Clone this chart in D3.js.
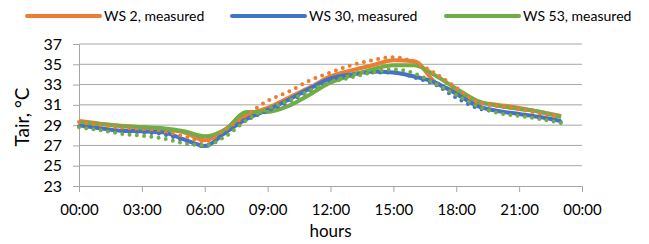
<!DOCTYPE html>
<html>
<head>
<meta charset="utf-8">
<script src="https://cdn.jsdelivr.net/npm/d3@7"></script>
<style>
  body { margin: 0; background: #fff; }
  text { font-family: Lato, "Open Sans", sans-serif; fill: #000; }
</style>
</head>
<body>
<div id="chart"></div>
<script>
// hours of the day, one reading per hour
var hours = d3.range(0, 24);

// measured (solid lines)
var ws2Measured  = [29.4, 29.15, 28.95, 28.8, 28.6, 28.3, 27.5, 28.6, 30.0, 30.7, 31.7, 32.7,
                    33.8, 34.4, 34.9, 35.4, 35.3, 33.2, 32.3, 31.3, 31.0, 30.7, 30.3, 29.9];
var ws30Measured = [29.0, 28.7, 28.45, 28.4, 28.3, 27.6, 26.95, 28.3, 29.6, 30.5, 31.5, 32.6,
                    33.6, 34.0, 34.3, 34.2, 33.8, 33.2, 32.1, 30.9, 30.4, 30.1, 29.8, 29.4];
var ws53Measured = [29.3, 29.1, 28.9, 28.8, 28.7, 28.4, 27.9, 28.6, 30.3, 30.3, 30.9, 32.0,
                    33.2, 33.9, 34.5, 34.9, 34.9, 33.9, 32.6, 31.4, 30.9, 30.6, 30.3, 29.8];

// simulated (dotted lines, not in the legend)
var ws2Sim  = [29.3, 29.0, 28.7, 28.5, 28.3, 27.9, 27.4, 28.6, 30.0, 31.4, 32.3, 33.4,
               34.2, 34.9, 35.4, 35.7, 35.2, 34.1, 32.7, 31.3, 30.85, 30.55, 30.15, 29.8];
var ws30Sim = [28.9, 28.6, 28.4, 28.3, 28.1, 27.5, 26.9, 28.2, 29.5, 30.4, 31.3, 32.4,
               33.4, 33.9, 34.2, 34.2, 33.7, 33.0, 31.7, 30.7, 30.3, 30.0, 29.7, 29.3];
var ws53Sim = [28.8, 28.5, 28.15, 27.95, 27.7, 27.2, 27.0, 27.9, 29.5, 30.6, 31.4, 32.4,
               33.2, 33.7, 34.2, 34.5, 34.1, 33.1, 32.0, 30.9, 30.2, 29.9, 29.6, 29.2];

var xTicks = d3.range(0, 25, 3);
var yTicks = d3.range(23, 38, 2);
var legendNames = ["WS 2, measured", "WS 30, measured", "WS 53, measured"];

var colors = ["#ED7D31", "#4472C4", "#70AD47"];

var width = 649, height = 244;
var margin = {top: 44, right: 67, bottom: 58, left: 79};

var x = d3.scaleLinear().domain([0, 24]).range([margin.left, width - margin.right]);
var y = d3.scaleLinear().domain([23, 37]).range([height - margin.bottom, margin.top]);

var svg = d3.select("#chart").append("svg")
    .attr("width", width)
    .attr("height", height);

// gridlines
svg.append("g")
  .selectAll("line")
  .data(yTicks.slice(1))
  .enter().append("line")
    .attr("x1", x(0)).attr("x2", x(24))
    .attr("y1", function(d) { return y(d); })
    .attr("y2", function(d) { return y(d); })
    .attr("stroke", "#A6A6A6")
    .attr("stroke-width", 1);

// x axis
var xAxis = svg.append("g")
    .attr("transform", "translate(0," + y(23) + ")")
    .call(d3.axisBottom(x).tickValues(xTicks).tickSizeInner(6).tickSizeOuter(0)
      .tickFormat(function(d) { return d3.format("02")(d % 24) + ":00"; }));
xAxis.select(".domain").attr("stroke", "#A6A6A6");
xAxis.selectAll(".tick line").attr("stroke", "#A6A6A6");
xAxis.selectAll("text").attr("font-size", 15).attr("dy", "1.3em");

// y axis
var yAxis = svg.append("g")
    .attr("transform", "translate(" + x(0) + ",0)")
    .call(d3.axisLeft(y).tickValues(yTicks).tickSizeInner(6).tickSizeOuter(0));
yAxis.select(".domain").attr("stroke", "#A6A6A6");
yAxis.selectAll(".tick line").attr("stroke", "#A6A6A6");
yAxis.selectAll("text").attr("font-size", 16).attr("x", -17);

// axis titles
svg.append("text")
    .attr("x", (x(0) + x(24)) / 2)
    .attr("y", 237)
    .attr("text-anchor", "middle")
    .attr("font-size", 17)
    .text("hours");

svg.append("text")
    .attr("transform", "translate(29," + ((y(23) + y(37)) / 2 + 2) + ") rotate(-90)")
    .attr("text-anchor", "middle")
    .attr("font-size", 19)
    .text("Tair, °C");

var line = d3.line()
    .x(function(d, i) { return x(hours[i]); })
    .y(function(d) { return y(d); })
    .curve(d3.curveMonotoneX);

// solid measured lines
[ws2Measured, ws30Measured, ws53Measured].forEach(function(s, i) {
  svg.append("path")
      .attr("d", line(s))
      .attr("fill", "none")
      .attr("stroke", colors[i])
      .attr("stroke-width", 4)
      .attr("stroke-linejoin", "round");
});

// dotted simulated lines
[ws2Sim, ws30Sim, ws53Sim].forEach(function(s, i) {
  svg.append("path")
      .attr("d", line(s))
      .attr("fill", "none")
      .attr("stroke", colors[i])
      .attr("stroke-width", 4)
      .attr("stroke-linecap", "round")
      .attr("stroke-dasharray", "0,7.3");
});

// legend
var legendX = [27, 232, 446];
var legend = svg.append("g");
legendNames.forEach(function(name, i) {
  legend.append("line")
      .attr("x1", legendX[i]).attr("x2", legendX[i] + 73)
      .attr("y1", 16).attr("y2", 16)
      .attr("stroke", colors[i])
      .attr("stroke-width", 4)
      .attr("stroke-linecap", "round");
  legend.append("text")
      .attr("x", legendX[i] + 77)
      .attr("y", 16)
      .attr("dy", "0.35em")
      .attr("font-size", 14)
      .text(name);
});
</script>
</body>
</html>
